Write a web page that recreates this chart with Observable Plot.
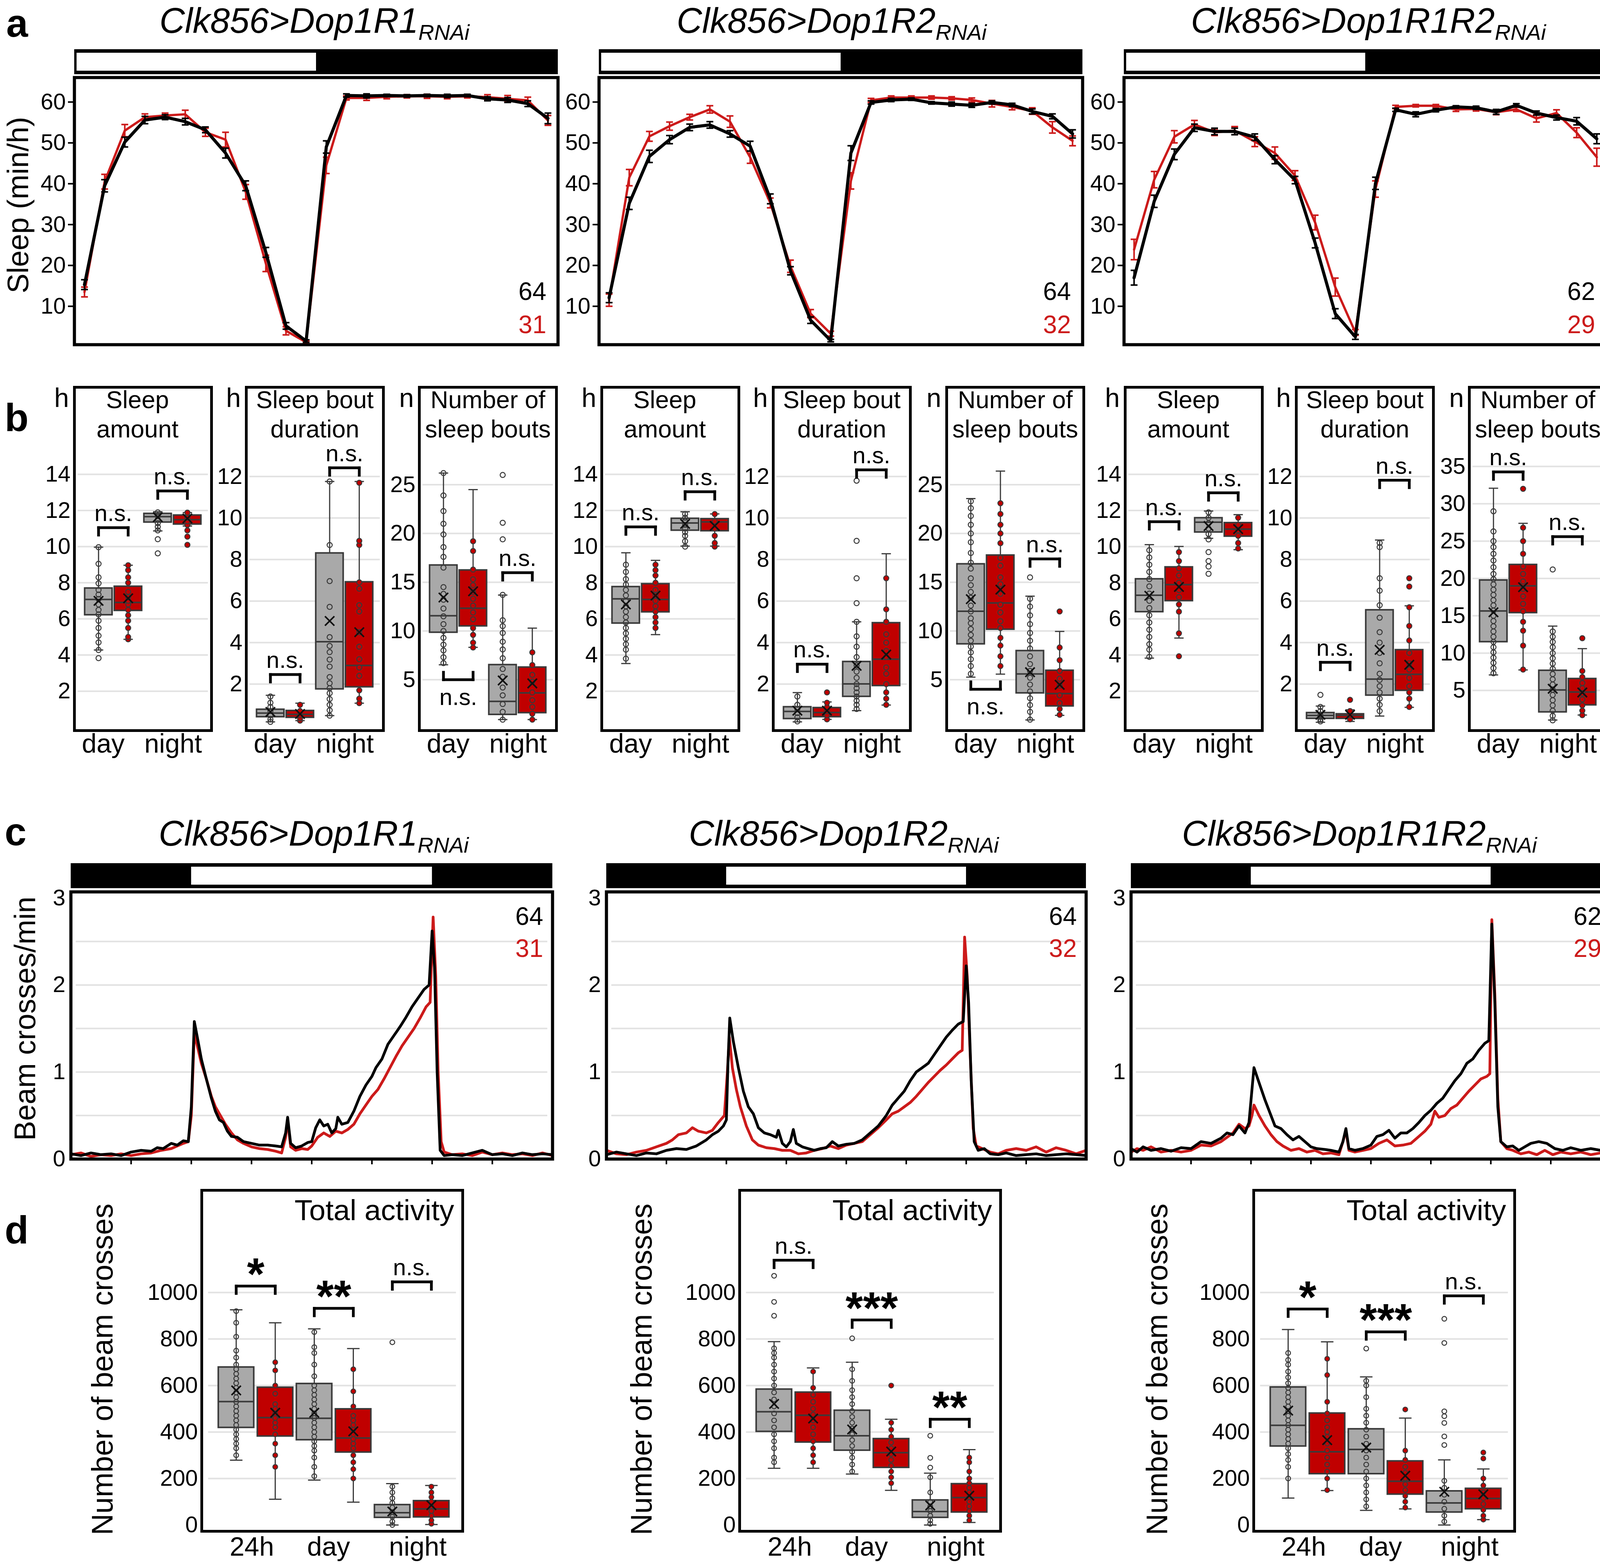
<!DOCTYPE html>
<html><head><meta charset="utf-8">
<script src="https://cdn.jsdelivr.net/npm/d3@7"></script>
<script src="https://cdn.jsdelivr.net/npm/@observablehq/plot@0.6"></script>
<style>
html,body{margin:0;padding:0;background:#fff;width:4130px;height:4012px;overflow:hidden;}
#root{position:absolute;left:0;top:0;width:4130px;height:4012px;overflow:hidden;background:#fff;}
</style></head><body><div id="root"></div>
<script>
const FONT = "'Liberation Sans', Arial, Helvetica, sans-serif";
const RED_LINE = "#cc1a1a", RED_BOX = "#c00000", GRAY_BOX = "#a9a9a9", DARK = "#3a3a3a", GRID = "#e2e2e2";

// ---------------- DATA ----------------
const genotypeTitles = ["Clk856>Dop1R1", "Clk856>Dop1R2", "Clk856>Dop1R1R2"];
const nControl = [64, 64, 62];
const nRNAi = [31, 32, 29];
const ZT = [0,1,2,3,4,5,6,7,8,9,10,11,12,13,14,15,16,17,18,19,20,21,22,23];
const lightsSleep = [[0, 12]];
const lightsAct = [[6, 18]];
const sleepTicks = [10, 20, 30, 40, 50, 60];

// panel a: sleep min/h (control black, RNAi red) with SEM
const sleepCtrl1 = [15.3,39.5,50.2,55.6,56.3,55.2,53.2,47.5,39.5,23.2,5.2,1.5,49.0,61.6,61.5,61.6,61.5,61.6,61.5,61.6,60.8,60.5,59.6,56.0];
const sleepCtrlSem1 = [1.2,1.5,1.2,0.9,0.6,0.8,0.7,1.2,1.2,1.2,0.8,0.3,1.5,0.4,0.5,0.3,0.3,0.3,0.4,0.3,0.5,0.6,0.7,1.3];
const sleepRnai1 = [13.5,40.5,53.0,56.3,56.7,57.0,52.6,50.8,38.0,20.5,4.0,1.2,44.5,61.0,61.0,61.3,61.4,61.4,61.3,61.4,61.2,60.8,60.4,55.5];
const sleepRnaiSem1 = [1.2,1.8,1.5,0.8,0.6,1.0,1.0,1.8,1.8,2.0,1.0,0.3,2.0,0.5,0.6,0.5,0.4,0.5,0.5,0.4,0.6,0.8,0.8,1.2];
const sleepCtrl2 = [12.1,35.2,46.7,50.8,53.8,54.4,52.2,49.2,36.3,18.7,6.6,1.6,47.5,59.9,60.5,60.7,59.8,59.5,59.2,59.9,59.3,57.7,56.5,52.2];
const sleepCtrlSem2 = [1.2,1.5,1.5,1.0,0.8,0.8,0.8,1.2,1.2,1.0,0.8,0.3,1.8,0.4,0.4,0.3,0.3,0.5,0.5,0.4,0.4,0.6,0.6,1.0];
const sleepRnai2 = [11.5,41.5,51.6,54.1,56.3,58.2,55.2,46.5,35.3,19.8,8.2,3.3,40.7,60.4,61.1,61.1,61.1,60.9,60.5,59.6,58.8,57.8,53.8,50.5];
const sleepRnaiSem2 = [1.5,2.0,1.2,1.0,0.7,0.9,1.4,1.5,1.2,1.5,1.0,0.6,2.0,0.5,0.4,0.4,0.4,0.4,0.5,0.8,0.7,0.8,1.4,1.2];
const sleepCtrl3 = [17.0,35.7,47.2,53.7,52.8,52.8,51.4,45.9,40.9,25.5,8.2,2.5,40.1,58.1,57.0,58.0,58.8,58.6,57.6,59.2,57.3,56.2,55.3,51.0];
const sleepCtrlSem3 = [1.8,1.5,1.3,0.9,0.8,0.8,0.8,1.0,0.9,1.2,1.2,0.6,1.5,0.4,0.6,0.4,0.3,0.4,0.6,0.4,0.5,0.6,0.9,1.2];
const sleepRnai3 = [23.9,41.0,51.5,54.5,52.6,53.0,50.3,47.5,42.0,30.5,14.7,3.6,38.7,58.8,59.1,59.1,58.2,58.3,57.5,58.2,56.0,57.3,52.5,46.5];
const sleepRnaiSem3 = [2.5,2.0,1.5,1.0,0.8,1.0,1.2,1.5,1.2,1.8,2.2,0.7,2.0,0.4,0.3,0.3,0.5,0.5,0.6,0.5,0.9,0.8,1.2,2.2];

// panel b: box stats [low whisker, q1, median, q3, high whisker, mean]; order: ctrl-day, rnai-day, ctrl-night, rnai-night
const bCategories = ["day", "night"];
const amountTicks = [2,4,6,8,10,12,14];
const boutTicks = [2,4,6,8,10,12];
const numberTicks = [5,10,15,20,25];
const numberTicks9 = [5,10,15,20,25,30,35];

const b1Stats = [[4.28,6.22,7.08,7.7,9.97,7.0],[4.87,6.46,6.91,7.8,8.97,7.14],[10.87,11.35,11.66,11.83,11.93,11.63],[11.14,11.24,11.49,11.74,11.88,11.56]];
const b1Points = [[3.83,4.28,4.7,5.07,5.5,5.9,6.25,6.5,6.8,7.1,7.35,7.6,7.97,8.3,9.05,9.97],[4.87,5.0,5.5,5.9,6.2,6.5,6.8,7.0,7.2,7.5,8.0,8.3,8.7,8.97],[9.63,10.41,10.9,11.1,11.3,11.5,11.7,11.9],[10.1,10.55,10.9,11.2,11.4,11.6,11.88]];
const b1Sig = [[0,11.05,"n.s.",1],[1,13.08,"n.s.",1]];

const b2Stats = [[0.18,0.42,0.6,0.78,1.46,0.66],[0.24,0.39,0.54,0.72,1.08,0.56],[0.48,1.76,4.04,8.31,11.76,5.04],[1.08,1.86,2.9,6.92,11.76,4.5]];
const b2Points = [[0.18,0.3,0.5,0.7,0.9,1.1,1.4],[0.24,0.35,0.5,0.7,1.0],[0.48,0.74,1.0,1.28,1.56,1.8,2.04,2.34,2.84,3.18,3.54,3.84,4.26,5.72,6.96,8.7,11.76],[1.08,1.3,1.7,2.4,2.8,3.2,3.8,4.5,5.5,5.8,6.6,6.9,8.7,8.9,11.7]];
const b2Sig = [[0,2.46,"n.s.",1],[1,12.42,"n.s.",1]];

const b3Stats = [[6.53,9.85,11.56,16.75,26.2,13.43],[8.32,10.5,12.33,16.24,24.5,14.07],[0.91,1.42,2.78,6.53,13.68,4.92],[0.91,1.6,3.65,6.28,10.29,4.62]];
const b3Points = [[6.7,7.3,8.0,8.6,9.3,10.0,10.7,11.5,12.3,13.2,13.8,14.5,16.5,17.6,18.6,19.9,21.0,22.3,23.9,26.2],[8.3,8.8,9.6,10.3,11.2,11.9,12.6,13.3,14.0,14.7,15.3,16.3,18.2,19.2],[0.9,1.7,2.5,3.4,4.2,5.3,6.1,7.2,8.1,8.9,9.8,10.5,11.1,13.7,19.4,21.1,26.0],[0.9,1.5,2.2,2.9,3.7,4.8,5.5,6.5,7.8]];
const b3Sig = [[0,5.0,"n.s.",-1],[1,15.98,"n.s.",1]];

const b4Stats = [[3.53,5.76,7.11,7.78,9.66,6.8],[5.13,6.38,7.08,7.94,9.24,7.29],[10.03,10.9,11.31,11.56,11.93,11.26],[10.03,10.87,11.37,11.54,11.81,11.15]];
const b4Points = [[3.8,4.3,4.6,4.9,5.2,5.5,5.8,6.1,6.4,6.7,7.0,7.3,7.6,7.9,8.2,8.6,9.0],[5.5,5.8,6.1,6.4,6.7,7.0,7.3,7.6,8.0,8.4,8.7,9.0],[10.0,10.3,10.6,10.8,11.0,11.2,11.4,11.6,11.8],[10.0,10.2,10.6,11.0,11.4,11.8]];
const b4Sig = [[0,11.09,"n.s.",1],[1,13.04,"n.s.",1]];

const b5Stats = [[0.18,0.33,0.68,0.9,1.59,0.72],[0.3,0.42,0.63,0.86,1.14,0.72],[0.72,1.4,2.01,3.08,5.0,2.88],[0.99,1.92,3.2,4.95,8.28,3.42]];
const b5Points = [[0.2,0.4,0.6,0.8,1.0,1.4],[0.3,0.5,0.7,0.9,1.1,1.6],[0.8,1.0,1.2,1.4,1.6,1.8,2.0,2.3,2.6,2.9,3.3,3.8,4.3,5.0,5.9,7.1,8.9,11.8],[1.0,1.3,1.6,2.0,2.5,2.8,3.3,3.6,4.0,4.4,5.0,5.6,7.1]];
const b5Sig = [[0,2.96,"n.s.",1],[1,12.32,"n.s.",1]];

const b6Stats = [[5.26,8.66,12.02,16.87,23.58,13.26],[5.57,10.16,12.87,17.77,26.4,14.24],[0.87,3.63,5.59,7.97,13.57,5.77],[1.34,2.29,3.58,5.95,9.95,4.48]];
const b6Points = [[5.6,6.4,7.1,7.8,8.4,9.0,9.6,10.2,10.8,11.3,12.0,12.6,13.4,14.0,14.7,15.4,16.4,17.0,18.0,19.1,20.0,20.9,21.8,22.6,23.3],[6.4,7.4,8.5,9.3,10.3,11.0,11.9,12.7,13.8,14.8,15.5,16.7,17.5,19.0,20.0,20.9,22.0,23.1],[0.9,1.7,2.4,3.1,3.8,4.5,5.2,5.9,6.6,7.4,8.2,9.0,9.8,10.7,11.6,12.5,13.3,15.5],[1.4,2.0,2.6,3.4,4.4,5.1,5.9,7.0,8.3,12.0]];
const b6Sig = [[0,4.02,"n.s.",-1],[1,17.39,"n.s.",1]];

const b7Stats = [[3.83,6.39,7.31,8.21,10.11,7.28],[4.94,7.0,7.9,8.87,10.01,7.77],[10.46,10.8,11.35,11.59,11.97,11.14],[9.83,10.57,10.97,11.32,11.77,10.97]];
const b7Points = [[3.9,4.3,4.6,5.0,5.4,5.8,6.2,6.6,7.0,7.4,7.8,8.2,8.6,9.0,9.4,9.8],[3.93,5.2,6.4,6.8,7.2,7.6,8.0,8.4,8.8,9.2,9.7],[8.5,8.9,9.2,9.7,10.4,10.7,11.0,11.3,11.6,11.9],[9.9,10.2,10.6,10.9,11.2,11.6]];
const b7Sig = [[0,11.38,"n.s.",1],[1,12.98,"n.s.",1]];

const b8Stats = [[0.16,0.34,0.49,0.62,0.94,0.52],[0.2,0.34,0.49,0.56,0.76,0.52],[0.46,1.46,2.24,5.57,8.94,3.65],[0.88,1.69,2.47,3.65,5.77,2.93]];
const b8Points = [[0.2,0.3,0.5,0.7,0.9,1.48],[0.3,0.5,0.7,1.24],[0.7,1.0,1.3,1.6,1.9,2.2,2.5,3.0,3.5,4.0,4.5,5.2,5.8,6.5,7.1,8.6,8.8],[0.9,1.3,1.6,1.9,2.3,2.7,3.0,3.5,4.1,4.8,5.7,6.7,7.1]];
const b8Sig = [[0,3.05,"n.s.",1],[1,11.82,"n.s.",1]];

const b9Stats = [[7.08,11.51,15.64,19.77,32.08,15.47],[7.75,15.4,19.0,21.85,27.38,18.83],[1.04,2.11,5.07,7.68,13.62,5.23],[1.71,3.05,4.8,6.58,10.6,4.73]];
const b9Points = [[7.3,8.0,8.7,9.4,10.1,10.8,11.5,12.2,12.9,13.6,14.3,15.0,15.7,16.4,17.1,17.8,18.5,19.2,19.9,20.6,21.5,22.4,23.3,24.2,25.0,26.3,29.0],[7.8,11.0,13.0,14.2,15.6,16.6,17.6,18.6,19.6,20.6,21.6,23.3,25.0,26.8,32.0],[1.0,1.6,2.3,3.0,3.7,4.4,5.1,5.8,6.5,7.2,7.9,8.6,9.3,10.0,10.8,11.5,12.2,12.9,21.2],[1.7,2.3,3.0,3.8,4.6,5.3,6.0,6.8,7.6,12.0]];
const b9Sig = [[0,34.26,"n.s.",1],[1,25.6,"n.s.",1]];

// panel c: activity (beam crosses/min) [hour of the plotted window, value]
const actTicks = [0, 1, 2, 3];
const actGrid = [0.5, 1, 1.5, 2, 2.5];
const actHourTicks = [3, 6, 9, 12, 15, 18, 21];
const actCtrl1 = [[0,0.06],[0.5,0.04],[1,0.07],[1.5,0.05],[2,0.06],[2.5,0.04],[3,0.08],[3.5,0.1],[4,0.09],[4.3,0.13],[4.6,0.12],[5,0.18],[5.3,0.16],[5.6,0.21],[5.85,0.2],[6.0,0.6],[6.15,1.58],[6.3,1.4],[6.5,1.15],[6.75,0.92],[7.0,0.7],[7.2,0.55],[7.4,0.45],[7.6,0.42],[7.8,0.32],[8.0,0.26],[8.3,0.25],[8.6,0.2],[9.0,0.18],[9.4,0.16],[9.8,0.16],[10.2,0.15],[10.5,0.14],[10.7,0.3],[10.8,0.48],[10.95,0.18],[11.2,0.13],[11.5,0.15],[11.8,0.19],[12.0,0.2],[12.2,0.36],[12.4,0.45],[12.6,0.38],[12.8,0.4],[13.0,0.3],[13.2,0.35],[13.3,0.48],[13.5,0.4],[13.8,0.42],[14.1,0.55],[14.4,0.72],[14.7,0.85],[15.0,0.95],[15.2,1.05],[15.5,1.15],[15.8,1.32],[16.1,1.42],[16.4,1.52],[16.7,1.63],[17.0,1.75],[17.3,1.85],[17.6,1.95],[17.85,2.0],[18.0,2.62],[18.12,2.2],[18.25,1.0],[18.4,0.1],[18.6,0.04],[19,0.05],[19.5,0.04],[20,0.07],[20.5,0.1],[21,0.05],[21.5,0.06],[22,0.04],[22.5,0.07],[23,0.05],[23.5,0.06],[24,0.05]];
const actRnai1 = [[0,0.05],[0.5,0.07],[1,0.03],[1.5,0.05],[2,0.04],[2.5,0.06],[3,0.04],[3.5,0.06],[4,0.07],[4.5,0.1],[5,0.12],[5.3,0.15],[5.6,0.18],[5.85,0.2],[6.0,0.5],[6.15,1.45],[6.3,1.3],[6.5,1.1],[6.75,0.92],[7.0,0.72],[7.2,0.6],[7.4,0.52],[7.7,0.4],[8.0,0.3],[8.3,0.22],[8.6,0.18],[9.0,0.14],[9.4,0.12],[9.8,0.11],[10.2,0.09],[10.5,0.07],[10.7,0.25],[10.8,0.45],[10.95,0.14],[11.2,0.1],[11.5,0.12],[11.8,0.11],[12.0,0.15],[12.3,0.25],[12.6,0.3],[12.9,0.26],[13.2,0.32],[13.5,0.3],[13.8,0.34],[14.1,0.4],[14.4,0.52],[14.7,0.62],[15.0,0.72],[15.3,0.8],[15.6,0.92],[15.9,1.05],[16.2,1.18],[16.5,1.3],[16.8,1.4],[17.1,1.5],[17.4,1.62],[17.7,1.75],[17.9,1.8],[18.05,2.78],[18.18,2.1],[18.3,1.0],[18.45,0.2],[18.6,0.08],[19,0.05],[19.5,0.06],[20,0.04],[20.5,0.08],[21,0.05],[21.5,0.07],[22,0.05],[22.5,0.06],[23,0.04],[23.5,0.07],[24,0.04]];
const actCtrl2 = [[0,0.05],[0.5,0.08],[1,0.06],[1.5,0.04],[2,0.07],[2.5,0.06],[3,0.1],[3.5,0.12],[4,0.11],[4.5,0.15],[5,0.22],[5.3,0.28],[5.6,0.32],[5.85,0.38],[6.0,0.45],[6.08,1.1],[6.17,1.62],[6.35,1.35],[6.6,1.05],[6.85,0.78],[7.1,0.6],[7.35,0.52],[7.6,0.36],[7.9,0.3],[8.2,0.28],[8.5,0.25],[8.6,0.33],[8.8,0.18],[9.0,0.14],[9.2,0.2],[9.35,0.34],[9.5,0.18],[9.8,0.14],[10.1,0.12],[10.4,0.1],[10.7,0.12],[11.0,0.13],[11.3,0.2],[11.6,0.15],[12.0,0.17],[12.4,0.18],[12.8,0.22],[13.2,0.3],[13.6,0.38],[14.0,0.5],[14.3,0.62],[14.6,0.7],[14.9,0.78],[15.2,0.9],[15.5,1.0],[15.8,1.05],[16.1,1.1],[16.4,1.2],[16.7,1.3],[17.0,1.4],[17.3,1.48],[17.6,1.55],[17.85,1.58],[18.0,2.22],[18.12,1.8],[18.25,0.9],[18.4,0.2],[18.6,0.1],[18.9,0.12],[19.2,0.06],[19.6,0.05],[20,0.07],[20.5,0.04],[21,0.05],[21.5,0.06],[22,0.04],[22.5,0.05],[23,0.06],[23.5,0.05],[24,0.04]];
const actRnai2 = [[0,0.1],[0.5,0.06],[1,0.05],[1.5,0.08],[2,0.1],[2.5,0.14],[3,0.18],[3.3,0.22],[3.6,0.28],[4,0.3],[4.3,0.36],[4.6,0.32],[5,0.3],[5.3,0.33],[5.6,0.42],[5.9,0.5],[6.05,1.0],[6.15,1.4],[6.3,1.05],[6.5,0.8],[6.7,0.6],[7.0,0.38],[7.3,0.22],[7.6,0.16],[8.0,0.13],[8.4,0.12],[8.8,0.1],[9.2,0.1],[9.6,0.06],[10.0,0.07],[10.4,0.1],[10.8,0.12],[11.2,0.15],[11.6,0.12],[12.0,0.16],[12.4,0.18],[12.8,0.2],[13.2,0.28],[13.6,0.36],[14.0,0.45],[14.3,0.52],[14.6,0.55],[14.9,0.6],[15.2,0.65],[15.5,0.72],[15.8,0.8],[16.1,0.88],[16.4,0.95],[16.7,1.02],[17.0,1.08],[17.3,1.15],[17.6,1.22],[17.8,1.25],[17.92,2.55],[18.05,2.1],[18.2,1.2],[18.35,0.35],[18.5,0.15],[18.8,0.12],[19.2,0.08],[19.6,0.06],[20,0.1],[20.5,0.12],[21,0.1],[21.5,0.14],[22,0.08],[22.5,0.13],[23,0.1],[23.5,0.06],[24,0.1]];
const actCtrl3 = [[0,0.12],[0.3,0.08],[0.6,0.14],[1,0.1],[1.5,0.12],[2,0.09],[2.5,0.13],[3,0.12],[3.5,0.2],[4,0.18],[4.5,0.24],[4.8,0.3],[5.1,0.28],[5.4,0.38],[5.7,0.3],[5.9,0.42],[6.05,0.8],[6.15,1.05],[6.4,0.88],[6.7,0.68],[7.0,0.5],[7.2,0.38],[7.5,0.35],[7.8,0.28],[8.1,0.22],[8.4,0.26],[8.7,0.2],[9.0,0.14],[9.3,0.12],[9.7,0.11],[10.0,0.1],[10.4,0.08],[10.6,0.2],[10.75,0.35],[10.9,0.12],[11.2,0.1],[11.6,0.12],[12.0,0.16],[12.3,0.26],[12.6,0.28],[12.9,0.33],[13.2,0.24],[13.5,0.3],[13.8,0.3],[14.1,0.35],[14.4,0.42],[14.7,0.5],[15.0,0.56],[15.3,0.64],[15.6,0.7],[15.9,0.8],[16.2,0.9],[16.5,0.98],[16.8,1.1],[17.1,1.15],[17.4,1.25],[17.7,1.33],[17.9,1.36],[18.05,2.7],[18.2,1.8],[18.35,0.6],[18.5,0.2],[18.8,0.14],[19.1,0.15],[19.4,0.1],[19.7,0.14],[20.0,0.18],[20.4,0.2],[20.8,0.18],[21.2,0.12],[21.6,0.1],[22,0.13],[22.5,0.1],[23,0.12],[23.5,0.1],[24,0.12]];
const actRnai3 = [[0,0.08],[0.3,0.12],[0.6,0.1],[1,0.14],[1.5,0.08],[2,0.1],[2.5,0.08],[3,0.1],[3.5,0.16],[4,0.15],[4.5,0.2],[4.8,0.25],[5.1,0.3],[5.4,0.4],[5.7,0.35],[5.9,0.38],[6.05,0.5],[6.15,0.62],[6.4,0.5],[6.7,0.38],[7.0,0.28],[7.3,0.2],[7.6,0.15],[8.0,0.1],[8.4,0.12],[8.8,0.08],[9.2,0.1],[9.6,0.06],[10.0,0.07],[10.4,0.05],[10.6,0.2],[10.75,0.33],[10.9,0.1],[11.2,0.08],[11.6,0.1],[12.0,0.12],[12.4,0.18],[12.8,0.22],[13.2,0.15],[13.6,0.16],[14.0,0.18],[14.4,0.26],[14.7,0.32],[15.0,0.4],[15.2,0.55],[15.4,0.48],[15.7,0.5],[16.0,0.58],[16.3,0.62],[16.6,0.7],[16.9,0.78],[17.2,0.85],[17.5,0.92],[17.8,0.95],[17.95,0.98],[18.05,2.75],[18.2,1.9],[18.35,0.7],[18.5,0.2],[18.8,0.12],[19.1,0.1],[19.5,0.06],[19.9,0.08],[20.3,0.05],[20.7,0.1],[21.1,0.05],[21.5,0.08],[22,0.06],[22.5,0.08],[23,0.05],[23.5,0.07],[24,0.05]];

// panel d: total activity boxes; order ctrl-24h, rnai-24h, ctrl-day, rnai-day, ctrl-night, rnai-night
const dCategories = ["24h", "day", "night"];
const dTicks = [0, 200, 400, 600, 800, 1000];
const d1Stats = [[279,419,531,679,926,579],[111,382,462,592,870,483],[193,366,459,608,844,483],[98,313,374,499,759,403],[0,32,53,87,178,58],[2,34,69,104,170,85]];
const d1Points = [[300,330,350,370,390,410,430,450,470,490,510,530,550,570,590,610,630,650,670,690,720,750,810,870,920],[250,300,350,390,420,440,460,480,500,520,565,600,665,700],[210,250,290,320,340,360,380,400,420,440,460,480,500,520,540,560,580,600,640,690,740,765,830],[200,240,270,300,330,350,370,390,410,430,450,470,510,575,670],[0,15,35,55,75,95,115,140,165,786],[5,20,40,60,80,100,120,140,165]];
const d1Sig = [[0,1028,"*",1],[1,932,"**",1],[2,1046,"n.s.",1]];
const d2Stats = [[244,402,487,584,789,521],[244,356,472,571,676,458],[219,321,384,493,700,411],[149,247,311,371,455,316],[0,32,58,107,223,84],[11,55,118,177,324,126]];
const d2Points = [[270,290,330,360,390,420,450,480,510,540,570,600,630,660,690,720,740,760,900,960,1072],[270,300,330,360,390,420,450,475,500,530,560,590,660],[230,260,290,315,340,365,390,415,440,465,490,520,550,580,620,670,803],[180,205,230,255,280,305,330,355,380,410,440,600],[5,20,40,60,80,100,140,205,247,289,384],[20,40,60,80,100,120,140,160,180,200,230,270,290]];
const d2Sig = [[0,1139,"n.s.",1],[1,882,"***",1],[2,455,"**",1]];
const d3Stats = [[116,339,429,593,841,492],[148,220,315,481,788,365],[63,220,325,413,637,333],[69,132,188,275,460,212],[0,55,95,146,280,143],[23,69,114,157,241,132]];
const d3Points = [[200,250,280,305,330,350,370,390,410,430,450,470,490,510,530,550,570,590,610,635,660,690,710,740],[150,200,230,260,290,320,350,380,400,420,450,480,530,645,715],[80,110,140,170,200,230,260,290,320,350,380,410,440,470,500,550,600,620,759],[75,100,125,150,175,200,225,250,280,320,497],[15,40,70,100,130,160,190,344,381,439,468,489,783,887],[23,40,65,90,115,140,170,200,286,312]];
const d3Sig = [[0,929,"*",1],[1,831,"***",1],[2,986,"n.s.",1]];

// ---------------- LAYOUT HELPERS ----------------
const root = document.getElementById("root");
function put(node, left, top) {
  node.style.position = "absolute"; node.style.left = left + "px"; node.style.top = top + "px";
  root.appendChild(node);
}
const baseStyle = {fontFamily: FONT, fontSize: "58px", color: "black", background: "none", overflow: "visible"};
const plain = d => String(d);

function lightBar(left, top, width, height, periods, insetLeft) {
  const svg = Plot.plot({
    width, height, margin: 0, x: {domain: [0, 24], axis: null}, style: baseStyle,
    marks: [
      Plot.rect([[0, 24]], {x1: d => d[0], x2: d => d[1], fill: "black"}),
      Plot.rect(periods, {x1: d => d[0], x2: d => d[1], fill: "white", insetTop: 9, insetBottom: 9, insetLeft})
    ]
  });
  put(svg, left, top);
}

function sleepPlot(left, top, fw, fh, ctrl, ctrlSem, rnai, rnaiSem, nC, nR) {
  const ML = 140, MR = 12, MT = 12, MB = 12;
  const rows = (vals, sems) => vals.map((v, i) => ({h: ZT[i] + 0.5, v, e: sems[i]}));
  const C = rows(ctrl, ctrlSem), R = rows(rnai, rnaiSem);
  const cap = 0.17;
  const marks = [];
  for (const [D, color, sw] of [[R, RED_LINE, 6], [C, "black", 8]]) {
    marks.push(Plot.ruleX(D, {x: "h", y1: d => d.v - d.e, y2: d => d.v + d.e, stroke: color, strokeWidth: 4}));
    marks.push(Plot.link(D, {x1: d => d.h - cap, x2: d => d.h + cap, y1: d => d.v + d.e, y2: d => d.v + d.e, stroke: color, strokeWidth: 4}));
    marks.push(Plot.link(D, {x1: d => d.h - cap, x2: d => d.h + cap, y1: d => d.v - d.e, y2: d => d.v - d.e, stroke: color, strokeWidth: 4}));
    marks.push(Plot.line(D, {x: "h", y: "v", stroke: color, strokeWidth: sw}));
  }
  marks.push(Plot.frame({stroke: "black", strokeWidth: 8}));
  marks.push(Plot.axisY({ticks: sleepTicks, tickFormat: plain, tickSize: 16, tickPadding: 6, strokeWidth: 4, label: null}));
  marks.push(Plot.text([nC], {text: plain, frameAnchor: "bottom-right", textAnchor: "end", lineAnchor: "bottom", dx: -30, dy: -115, fontSize: 64, fill: "black"}));
  marks.push(Plot.text([nR], {text: plain, frameAnchor: "bottom-right", textAnchor: "end", lineAnchor: "bottom", dx: -30, dy: -30, fontSize: 64, fill: RED_LINE}));
  const svg = Plot.plot({
    width: ML + fw + MR, height: MT + fh + MB, marginLeft: ML, marginRight: MR, marginTop: MT, marginBottom: MB,
    x: {domain: [0, 24], axis: null}, y: {domain: [0.6, 66]}, style: baseStyle, marks
  });
  put(svg, left - ML, top - MT);
}

function activityPlot(left, top, fw, fh, ctrl, rnai, nC, nR) {
  const ML = 100, MR = 12, MT = 12, MB = 30;
  const C = ctrl.map(([h, v]) => ({h, v})), R = rnai.map(([h, v]) => ({h, v}));
  const svg = Plot.plot({
    width: ML + fw + MR, height: MT + fh + MB, marginLeft: ML, marginRight: MR, marginTop: MT, marginBottom: MB,
    x: {domain: [0, 24]}, y: {domain: [0, 3.07]}, style: baseStyle,
    marks: [
      Plot.ruleY(actGrid, {x1: 0.25, x2: 23.75, stroke: GRID, strokeWidth: 4}),
      Plot.line(R, {x: "h", y: "v", stroke: RED_LINE, strokeWidth: 7}),
      Plot.line(C, {x: "h", y: "v", stroke: "black", strokeWidth: 7}),
      Plot.frame({stroke: "black", strokeWidth: 8}),
      Plot.axisY({ticks: actTicks, tickFormat: plain, tickSize: 0, tickPadding: 14, label: null}),
      Plot.axisX({ticks: actHourTicks, tickFormat: () => "", tickSize: 14, strokeWidth: 4, label: null}),
      Plot.text([nC], {text: plain, frameAnchor: "top-right", textAnchor: "end", lineAnchor: "bottom", dx: -24, dy: 84, fontSize: 64, fill: "black"}),
      Plot.text([nR], {text: plain, frameAnchor: "top-right", textAnchor: "end", lineAnchor: "bottom", dx: -24, dy: 166, fontSize: 64, fill: RED_LINE})
    ]
  });
  put(svg, left - ML, top - MT);
}

function boxPanel(cfg) {
  const {left, top, fw, fh, domain, ticks, stats, pts, sig, nBoxes, start, step, halfW, capPx, ptR,
         labelPos, labels, title, titleDx, unit, ML, MB, xPad, extraText} = cfg;
  const MT = 10, MR = 10;
  const centers = Array.from({length: nBoxes}, (_, k) => start + step * k);
  const perPx = (domain[1] - domain[0]) / fh;
  const capHalf = capPx / fw;
  const boxes = stats.map((s, k) => ({c: centers[k], lo: s[0], q1: s[1], med: s[2], q3: s[3], hi: s[4], mean: s[5], red: k % 2 === 1}));
  const dots = pts.flatMap((arr, k) => arr.map(v => ({c: centers[k], v, red: k % 2 === 1})));
  const br = sig.map(([g, y, txt, dir]) => ({x1: centers[2 * g], x2: centers[2 * g + 1], y, txt, dir}));
  const tk = 19 * perPx;
  const labelMap = new Map(labelPos.map((p, i) => [p, labels[i]]));
  const grayB = boxes.filter(d => !d.red), redB = boxes.filter(d => d.red);
  const marks = [
    Plot.ruleY(ticks.filter(t => t > 0), {x1: 0.025, x2: 0.975, stroke: GRID, strokeWidth: 4}),
    Plot.ruleX(boxes, {x: "c", y1: "lo", y2: "hi", stroke: DARK, strokeWidth: 3}),
    Plot.link(boxes, {x1: d => d.c - capHalf, x2: d => d.c + capHalf, y1: "hi", y2: "hi", stroke: DARK, strokeWidth: 3}),
    Plot.link(boxes, {x1: d => d.c - capHalf, x2: d => d.c + capHalf, y1: "lo", y2: "lo", stroke: DARK, strokeWidth: 3}),
    Plot.rect(grayB, {x1: d => d.c - halfW, x2: d => d.c + halfW, y1: "q1", y2: "q3", fill: GRAY_BOX, stroke: DARK, strokeWidth: 4}),
    Plot.rect(redB, {x1: d => d.c - halfW, x2: d => d.c + halfW, y1: "q1", y2: "q3", fill: RED_BOX, stroke: DARK, strokeWidth: 4}),
    Plot.link(boxes, {x1: d => d.c - halfW, x2: d => d.c + halfW, y1: "med", y2: "med", stroke: DARK, strokeWidth: 4}),
    Plot.dot(dots.filter(d => !d.red), {x: "c", y: "v", r: ptR, fill: "none", stroke: DARK, strokeWidth: 2.5}),
    Plot.dot(dots.filter(d => d.red), {x: "c", y: "v", r: ptR, fill: RED_BOX, stroke: DARK, strokeWidth: 2.5}),
    Plot.dot(boxes, {x: "c", y: "mean", symbol: "times", r: 11, stroke: "#111", strokeWidth: 4}),
    Plot.link(br, {x1: "x1", x2: "x2", y1: "y", y2: "y", stroke: "black", strokeWidth: 7, strokeLinecap: "square"}),
    Plot.link(br, {x1: "x1", x2: "x1", y1: "y", y2: d => d.y - d.dir * tk, stroke: "black", strokeWidth: 7, strokeLinecap: "square"}),
    Plot.link(br, {x1: "x2", x2: "x2", y1: "y", y2: d => d.y - d.dir * tk, stroke: "black", strokeWidth: 7, strokeLinecap: "square"}),
    Plot.text(br.filter(d => d.txt === "n.s." && d.dir > 0), {x: d => (d.x1 + d.x2) / 2, y: "y", text: "txt", lineAnchor: "bottom", dy: -17, fontSize: 60, fill: "black"}),
    Plot.text(br.filter(d => d.txt === "n.s." && d.dir < 0), {x: d => (d.x1 + d.x2) / 2, y: "y", text: "txt", lineAnchor: "top", dy: 22, fontSize: 60, fill: "black"}),
    Plot.text(br.filter(d => d.txt !== "n.s."), {x: d => (d.x1 + d.x2) / 2, y: "y", text: "txt", lineAnchor: "bottom", dy: 8, fontSize: 115, fontWeight: "bold", fill: "black"}),
    Plot.frame({stroke: "black", strokeWidth: 7}),
    Plot.axisY({ticks, tickFormat: plain, tickSize: 0, tickPadding: 10, label: null}),
    Plot.axisX({ticks: labelPos, tickFormat: d => labelMap.get(d), tickSize: 0, tickPadding: xPad, fontSize: 68, label: null})
  ];
  if (title) marks.push(Plot.text([title], {text: d => d, frameAnchor: "top", lineAnchor: "top", dy: 0, dx: titleDx, fontSize: 63, lineHeight: 1.19, fill: "black"}));
  if (unit) marks.push(Plot.text([unit], {text: d => d, frameAnchor: "top-left", textAnchor: "end", lineAnchor: "bottom", dx: -14, dy: 50, fontSize: 68, fill: "black"}));
  if (extraText) marks.push(Plot.text([extraText], {text: d => d, frameAnchor: "top-right", textAnchor: "end", lineAnchor: "bottom", dx: -22, dy: 76, fontSize: 75, fill: "black"}));
  const svg = Plot.plot({
    width: ML + fw + MR, height: MT + fh + MB, marginLeft: ML, marginRight: MR, marginTop: MT, marginBottom: MB,
    x: {domain: [0, 1], axis: null}, y: {domain, axis: null}, style: baseStyle, marks
  });
  put(svg, left - ML, top - MT);
}

// ---------------- PANEL A ----------------
const aFrames = [[190, 1238], [1533, 1238], [2877, 1236]];
const aData = [[sleepCtrl1, sleepCtrlSem1, sleepRnai1, sleepRnaiSem1], [sleepCtrl2, sleepCtrlSem2, sleepRnai2, sleepRnaiSem2], [sleepCtrl3, sleepCtrlSem3, sleepRnai3, sleepRnaiSem3]];
aFrames.forEach(([l, w], i) => {
  lightBar(l, 126, w, 64, lightsSleep, 6);
  sleepPlot(l, 198, w, 684, ...aData[i], nControl[i], nRNAi[i]);
});

// ---------------- PANEL B ----------------
const bLefts = [190, 630, 1073, 1540, 1979, 2423, 2880, 3318, 3761];
const bTitles = ["Sleep\namount", "Sleep bout\nduration", "Number of\nsleep bouts"];
const bUnits = ["h", "h", "n"];
const bDomains = [[-0.18, 18.82], [-0.24, 16.3], [-0.22, 35.0]];
const bTickSets = [amountTicks, boutTicks, numberTicks];
const bStatsAll = [b1Stats, b2Stats, b3Stats, b4Stats, b5Stats, b6Stats, b7Stats, b8Stats, b9Stats];
const bPointsAll = [b1Points, b2Points, b3Points, b4Points, b5Points, b6Points, b7Points, b8Points, b9Points];
const bSigAll = [b1Sig, b2Sig, b3Sig, b4Sig, b5Sig, b6Sig, b7Sig, b8Sig, b9Sig];
bLefts.forEach((l, i) => {
  const kind = i % 3;
  boxPanel({
    left: l, top: 991, fw: 351, fh: 879,
    domain: i === 8 ? [-0.37, 45.6] : bDomains[kind],
    ticks: i === 8 ? numberTicks9 : bTickSets[kind],
    stats: bStatsAll[i], pts: bPointsAll[i], sig: bSigAll[i],
    nBoxes: 4, start: 0.176, step: 0.216, halfW: 0.1, capPx: 12, ptR: 6.5,
    labelPos: [0.21, 0.72], labels: bCategories,
    title: bTitles[kind], titleDx: kind === 0 ? -14 : 0, unit: bUnits[kind],
    ML: 110, MB: 80, xPad: 8
  });
});

// ---------------- PANEL C ----------------
const cFrames = [[181, 1233], [1552, 1228], [2895, 1228]];
const cData = [[actCtrl1, actRnai1], [actCtrl2, actRnai2], [actCtrl3, actRnai3]];
cFrames.forEach(([l, w], i) => {
  lightBar(l, 2210, w, 64, lightsAct, 0);
  activityPlot(l, 2283, w, 684, cData[i][0], cData[i][1], nControl[i], nRNAi[i]);
});

// ---------------- PANEL D ----------------
const dLefts = [516, 1893, 3209];
const dStatsAll = [d1Stats, d2Stats, d3Stats], dPointsAll = [d1Points, d2Points, d3Points], dSigAll = [d1Sig, d2Sig, d3Sig];
dLefts.forEach((l, i) => {
  boxPanel({
    left: l, top: 3047, fw: 668, fh: 873, domain: [-27, 1440], ticks: dTicks,
    stats: dStatsAll[i], pts: dPointsAll[i], sig: dSigAll[i],
    nBoxes: 6, start: 0.132, step: 0.1496, halfW: 0.068, capPx: 16, ptR: 6,
    labelPos: [0.192, 0.486, 0.828], labels: dCategories,
    title: null, unit: null, extraText: "Total activity",
    ML: 160, MB: 90, xPad: 14
  });
});

// ---------------- TEXT OVERLAY ----------------
const ov = d3.create("svg").attr("width", 4130).attr("height", 4012)
  .style("position", "absolute").style("left", "0px").style("top", "0px").style("pointer-events", "none")
  .attr("font-family", FONT).attr("fill", "black");
function letter(t, x, y) { ov.append("text").attr("x", x).attr("y", y).attr("font-size", 100).attr("font-weight", "bold").text(t); }
letter("a", 16, 94); letter("b", 12, 1104); letter("c", 12, 2164); letter("d", 12, 3184);
function title(x, y, main) {
  const t = ov.append("text").attr("x", x).attr("y", y).attr("text-anchor", "middle").attr("font-size", 90).attr("font-style", "italic");
  t.append("tspan").text(main);
  t.append("tspan").attr("font-size", 56).attr("dy", 18).text("RNAi");
}
[805, 2129, 3503].forEach((x, i) => title(x, 84, genotypeTitles[i]));
[803, 2160, 3480].forEach((x, i) => title(x, 2165, genotypeTitles[i]));
function vlabel(t, x, y) {
  ov.append("text").attr("transform", `translate(${x},${y}) rotate(-90)`).attr("text-anchor", "middle").attr("font-size", 76).text(t);
}
vlabel("Sleep (min/h)", 72, 525);
vlabel("Beam crosses/min", 90, 2608);
[288, 1668, 2988].forEach(x => vlabel("Number of beam crosses", x, 3506));
root.appendChild(ov.node());
</script></body></html>
